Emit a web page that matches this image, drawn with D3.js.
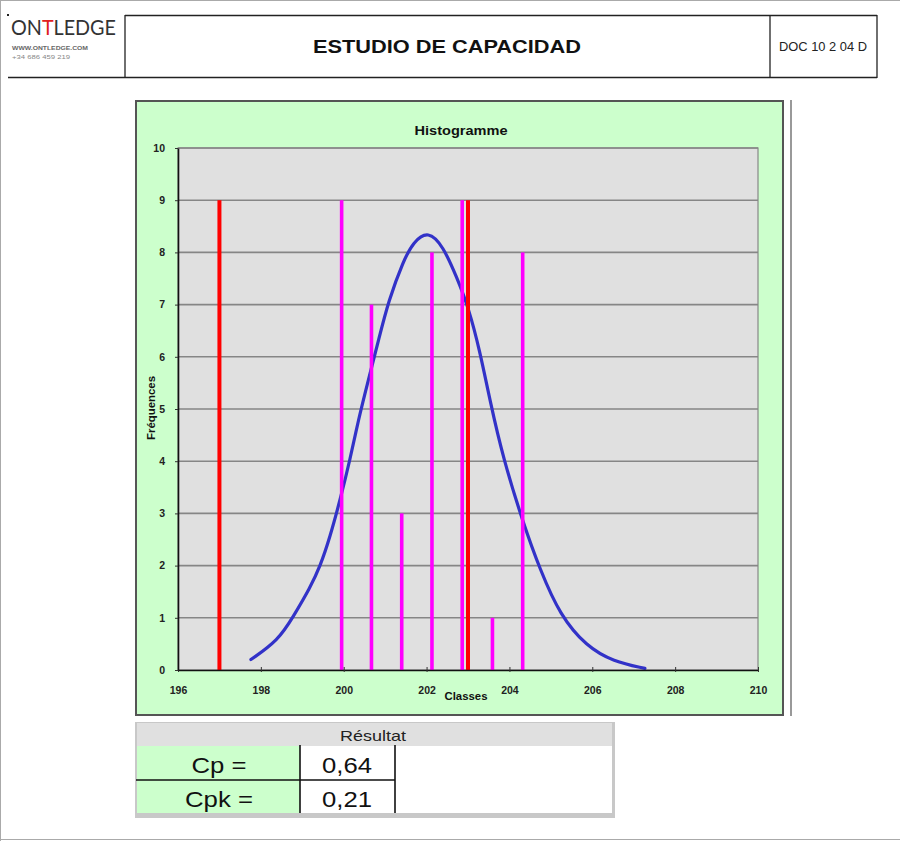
<!DOCTYPE html>
<html>
<head>
<meta charset="utf-8">
<script src="https://cdn.jsdelivr.net/npm/d3@7"></script>
<style>
  body { margin: 0; background: #fff; }
  svg { display: block; font-family: "Liberation Sans", Arial, sans-serif; }
</style>
</head>
<body>
<svg id="c" width="900" height="841"></svg>
<script>
// ---------------- data ----------------
const xTicks = [196, 198, 200, 202, 204, 206, 208, 210];
const yTicks = [0, 1, 2, 3, 4, 5, 6, 7, 8, 9, 10];
const binCenters = [199.95, 200.67, 201.40, 202.13, 202.86, 203.59, 204.32];
const frequencies = [9, 7, 3, 8, 9, 1, 8];
const specLimits = [197.0, 203.0];
const specHeights = [9, 9];
const curveX = [197.76, 198.42, 198.78, 199.19, 199.43, 199.67, 199.91, 200.15, 200.35, 200.59, 200.85, 201.08, 201.44, 201.68, 202.04, 202.40, 202.73, 203.01, 203.29, 203.53, 203.85, 204.33, 204.74, 205.22, 205.86, 206.51, 207.27];
const curveY = [0.20, 0.57, 1.02, 1.58, 1.98, 2.55, 3.25, 4.02, 4.78, 5.54, 6.35, 7.07, 7.84, 8.20, 8.42, 8.12, 7.52, 6.95, 6.10, 5.16, 4.05, 2.82, 1.92, 1.05, 0.45, 0.16, 0.03];
const resultLabels = ["Cp =", "Cpk ="];
const resultValues = ["0,64", "0,21"];

// ---------------- page ----------------
const svg = d3.select("#c");

svg.append("line").attr("x1", 0).attr("x2", 900).attr("y1", 0.5).attr("y2", 0.5).attr("stroke", "#aaa");
svg.append("line").attr("x1", 0.5).attr("x2", 0.5).attr("y1", 0).attr("y2", 841).attr("stroke", "#aaa");
svg.append("line").attr("x1", 0).attr("x2", 900).attr("y1", 839.5).attr("y2", 839.5).attr("stroke", "#aaa");

const hdr = svg.append("g").attr("stroke", "#222").attr("stroke-width", 1.3);
hdr.append("line").attr("x1", 125).attr("x2", 877).attr("y1", 15.5).attr("y2", 15.5);
hdr.append("line").attr("x1", 8).attr("x2", 877).attr("y1", 77.5).attr("y2", 77.5);
[125, 770, 877].forEach(x => hdr.append("line").attr("x1", x).attr("x2", x).attr("y1", 15).attr("y2", 78));
svg.append("rect").attr("x", 7).attr("y", 14).attr("width", 2).attr("height", 2).attr("fill", "#222");

// logo
const logoParts = [["ON", "#333"], ["T", "#e02020"], ["LEDGE", "#333"]];
const logoG = svg.append("g");
let lx = 0;
logoParts.forEach(([t, c]) => {
  const el = logoG.append("text").attr("x", lx).attr("y", 0).attr("font-family", "Lato, 'Open Sans', sans-serif")
    .attr("font-size", 22).attr("fill", c).text(t);
  lx += el.node().getComputedTextLength();
});
logoG.attr("transform", `translate(11,35) scale(${105 / lx},1)`);

svg.append("text").attr("x", 12).attr("y", 50).attr("font-size", 6).attr("font-weight", "bold").attr("fill", "#666")
  .attr("textLength", 76).attr("lengthAdjust", "spacingAndGlyphs").text("WWW.ONTLEDGE.COM");
svg.append("text").attr("x", 12).attr("y", 59).attr("font-size", 6).attr("fill", "#888")
  .attr("textLength", 58).attr("lengthAdjust", "spacingAndGlyphs").text("+34 686 459 219");

svg.append("text").attr("x", 447).attr("y", 53).attr("text-anchor", "middle").attr("font-size", 18)
  .attr("font-weight", "bold").attr("fill", "#111")
  .attr("textLength", 268).attr("lengthAdjust", "spacingAndGlyphs").text("ESTUDIO DE CAPACIDAD");
svg.append("text").attr("x", 823).attr("y", 51).attr("text-anchor", "middle").attr("font-size", 12)
  .attr("fill", "#222").attr("textLength", 88).attr("lengthAdjust", "spacingAndGlyphs").text("DOC 10 2 04 D");

// ---------------- chart ----------------
svg.append("line").attr("x1", 791).attr("x2", 791).attr("y1", 100).attr("y2", 716).attr("stroke", "#777").attr("stroke-width", 1.5);

svg.append("rect").attr("x", 136).attr("y", 101).attr("width", 647).attr("height", 614)
  .attr("fill", "#ccffcc").attr("stroke", "#555").attr("stroke-width", 2);

const x = d3.scaleLinear().domain([196, 210]).range([178, 758]);
const y = d3.scaleLinear().domain([0, 10]).range([670, 148]);

svg.append("rect").attr("x", x(196)).attr("y", y(10)).attr("width", x(210) - x(196)).attr("height", y(0) - y(10))
  .attr("fill", "#e0e0e0").attr("stroke", "#888").attr("stroke-width", 1.2);

svg.append("g").selectAll("line").data(yTicks.filter(d => d > 0)).join("line")
  .attr("x1", x(196)).attr("x2", x(210)).attr("y1", d => y(d)).attr("y2", d => y(d))
  .attr("stroke", "#868686").attr("stroke-width", 1.6);

svg.append("text").attr("x", 461).attr("y", 135).attr("text-anchor", "middle").attr("font-size", 12)
  .attr("font-weight", "bold").attr("fill", "#111")
  .attr("textLength", 93).attr("lengthAdjust", "spacingAndGlyphs").text("Histogramme");

// normal curve
const pts = curveX.map((v, i) => [v, curveY[i]]);
svg.append("path").datum(pts)
  .attr("d", d3.line().x(d => x(d[0])).y(d => y(d[1])).curve(d3.curveBasis))
  .attr("fill", "none").attr("stroke", "#3232c8").attr("stroke-width", 3.2)
  .attr("stroke-linecap", "round").attr("stroke-linejoin", "round");

// histogram bars
svg.append("g").selectAll("rect").data(binCenters).join("rect")
  .attr("x", d => x(d) - 1.8).attr("width", 3.6)
  .attr("y", (d, i) => y(frequencies[i])).attr("height", (d, i) => y(0) - y(frequencies[i]))
  .attr("fill", "#ff00ff");

// spec limits
svg.append("g").selectAll("rect").data(specLimits).join("rect")
  .attr("x", d => x(d) - 2).attr("width", 4)
  .attr("y", (d, i) => y(specHeights[i])).attr("height", (d, i) => y(0) - y(specHeights[i]))
  .attr("fill", "#ff0000");

// axes
const xAxis = svg.append("g").attr("transform", `translate(0,${y(0)})`)
  .call(d3.axisBottom(x).tickValues(xTicks).tickSizeOuter(0).tickSizeInner(2));
xAxis.select(".domain").attr("stroke", "#111").attr("stroke-width", 1.6);
xAxis.selectAll(".tick line").attr("y1", -3).attr("y2", 2).attr("stroke", "#333");
xAxis.selectAll(".tick text").attr("y", 24).attr("dy", 0).attr("font-size", 10.5).attr("font-weight", "bold")
  .attr("fill", "#222").attr("font-family", "'Liberation Sans', Arial, sans-serif");

const yAxis = svg.append("g").attr("transform", `translate(${x(196)},0)`)
  .call(d3.axisLeft(y).tickValues(yTicks).tickSizeOuter(0).tickSizeInner(3).tickPadding(10));
yAxis.select(".domain").attr("stroke", "#111").attr("stroke-width", 1.6);
yAxis.selectAll(".tick line").attr("stroke", "#333");
yAxis.selectAll(".tick text").attr("font-size", 10.5).attr("font-weight", "bold").attr("fill", "#222")
  .attr("font-family", "'Liberation Sans', Arial, sans-serif");

svg.append("text").attr("x", 466).attr("y", 700).attr("text-anchor", "middle").attr("font-size", 10)
  .attr("font-weight", "bold").attr("fill", "#111")
  .attr("textLength", 43).attr("lengthAdjust", "spacingAndGlyphs").text("Classes");
svg.append("text").attr("transform", "translate(155,408) rotate(-90)").attr("text-anchor", "middle")
  .attr("font-size", 10).attr("font-weight", "bold").attr("fill", "#111")
  .attr("textLength", 64).attr("lengthAdjust", "spacingAndGlyphs").text("Fréquences");

// ---------------- result table ----------------
const tb = svg.append("g");
tb.append("rect").attr("x", 135).attr("y", 722).attr("width", 480).attr("height", 96).attr("fill", "#c8c8c8");
tb.append("rect").attr("x", 137).attr("y", 723).attr("width", 475).attr("height", 90).attr("fill", "#fff");
tb.append("rect").attr("x", 137).attr("y", 723).attr("width", 475).attr("height", 23).attr("fill", "#e0e0e0");
tb.append("text").attr("x", 373).attr("y", 741).attr("text-anchor", "middle").attr("font-size", 15)
  .attr("fill", "#222").attr("textLength", 66).attr("lengthAdjust", "spacingAndGlyphs").text("Résultat");

const rowTop = [746, 780];
const rowH = [34, 33];
resultLabels.forEach((lab, i) => {
  tb.append("rect").attr("x", 137).attr("y", rowTop[i]).attr("width", 163).attr("height", rowH[i]).attr("fill", "#ccffcc");
  tb.append("text").attr("x", 219).attr("y", rowTop[i] + 27).attr("text-anchor", "middle").attr("font-size", 22)
    .attr("fill", "#111").attr("textLength", i === 0 ? 55 : 68).attr("lengthAdjust", "spacingAndGlyphs").text(lab);
  tb.append("text").attr("x", 347).attr("y", rowTop[i] + 27).attr("text-anchor", "middle").attr("font-size", 22)
    .attr("fill", "#111").attr("textLength", 50).attr("lengthAdjust", "spacingAndGlyphs").text(resultValues[i]);
});
const tl = tb.append("g").attr("stroke", "#111").attr("stroke-width", 1.6);
tl.append("line").attr("x1", 300).attr("x2", 300).attr("y1", 745).attr("y2", 813);
tl.append("line").attr("x1", 395).attr("x2", 395).attr("y1", 745).attr("y2", 813);
tl.append("line").attr("x1", 136).attr("x2", 395).attr("y1", 780).attr("y2", 780);
</script>
</body>
</html>
